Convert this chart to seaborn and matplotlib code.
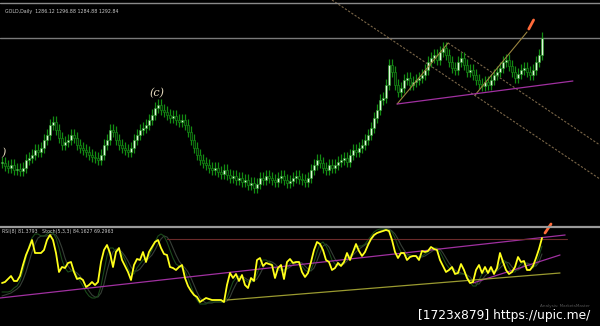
import numpy as np
import pandas as pd
import matplotlib
matplotlib.use("Agg")
import matplotlib.pyplot as plt
import seaborn as sns
from matplotlib.lines import Line2D

# ---------------- data ----------------
closes = [1237, 1234, 1232, 1235, 1230, 1231, 1229, 1232, 1240, 1242,
          1245, 1250, 1248, 1252, 1260, 1265, 1275, 1278, 1270, 1262,
          1255, 1258, 1260, 1265, 1262, 1255, 1252, 1250, 1248, 1245,
          1243, 1242, 1240, 1245, 1255, 1260, 1270, 1268, 1260, 1255,
          1252, 1250, 1248, 1252, 1260, 1265, 1270, 1272, 1275, 1280,
          1285, 1292, 1295, 1290, 1288, 1285, 1282, 1284, 1280, 1278,
          1280, 1275, 1268, 1260, 1252, 1245, 1240, 1237, 1235, 1232,
          1230, 1232, 1228, 1226, 1230, 1225, 1222, 1224, 1220, 1222,
          1218, 1220, 1215, 1217, 1212, 1216, 1222, 1220, 1224, 1222,
          1220, 1218, 1222, 1224, 1220, 1217, 1219, 1222, 1224, 1221,
          1220, 1218, 1222, 1230, 1235, 1240, 1237, 1232, 1230, 1235,
          1232, 1235, 1238, 1240, 1242, 1238, 1245, 1250, 1248, 1252,
          1255, 1260, 1265, 1272, 1282, 1290, 1300, 1302, 1315, 1335,
          1328, 1315, 1308, 1312, 1320, 1322, 1315, 1318, 1320, 1322,
          1325, 1330, 1338, 1342, 1345, 1340, 1348, 1352, 1345, 1338,
          1332, 1330, 1338, 1342, 1335, 1328, 1330, 1325, 1320, 1316,
          1314, 1318, 1315, 1320, 1325, 1328, 1332, 1338, 1340, 1334,
          1328, 1322, 1326, 1330, 1332, 1328, 1325, 1330, 1338, 1345, 1362]

rsi = [43, 44, 47, 50, 45, 45, 50, 61, 71, 78,
       86, 73, 73, 73, 76, 86, 91, 86, 73, 54,
       59, 58, 63, 64, 54, 47, 48, 46, 39, 41,
       44, 41, 44, 64, 76, 81, 73, 59, 74, 78,
       66, 60, 54, 46, 61, 67, 66, 74, 64, 74,
       79, 84, 86, 78, 72, 71, 59, 58, 56, 59,
       61, 48, 40, 35, 31, 29, 24, 26, 28, 27,
       26, 26, 26, 26, 24, 41, 53, 48, 52, 45,
       51, 41, 38, 48, 45, 66, 68, 60, 63, 62,
       61, 48, 58, 61, 47, 64, 67, 63, 64, 64,
       54, 49, 53, 64, 76, 84, 82, 76, 66, 64,
       56, 58, 63, 60, 64, 73, 66, 74, 82, 75,
       70, 74, 81, 87, 91, 93, 94, 95, 96, 95,
       86, 74, 68, 73, 73, 66, 69, 70, 70, 66,
       75, 74, 75, 79, 77, 76, 66, 60, 54, 56,
       59, 52, 53, 62, 56, 48, 43, 44, 56, 61,
       53, 59, 53, 59, 52, 58, 73, 64, 56, 52,
       54, 59, 69, 64, 65, 56, 56, 60, 68, 77, 88]

stoch_main = [34, 34, 34, 35, 38, 40, 45, 55, 68, 80,
              88, 92, 92, 90, 90, 92, 94, 93, 88, 78,
              66, 58, 54, 55, 55, 50, 45, 40, 34, 30,
              28, 28, 30, 40, 55, 70, 78, 78, 74, 76,
              72, 66, 58, 52, 52, 58, 62, 66, 68, 70,
              76, 84, 90, 92, 90, 84, 76, 68, 62, 60,
              58, 55, 48, 40, 32, 26, 22, 22, 22, 24,
              24, 24, 24, 24, 24, 28, 36, 44, 48, 50,
              48, 46, 44, 44, 46, 52, 60, 66, 66, 64,
              62, 58, 56, 56, 56, 58, 62, 64, 64, 64,
              60, 56, 54, 56, 64, 74, 82, 84, 80, 74,
              66, 62, 60, 62, 64, 68, 70, 74, 78, 80,
              80, 82, 86, 90, 94, 96, 97, 97, 97, 96,
              94, 88, 80, 74, 72, 70, 70, 70, 70, 68,
              70, 72, 74, 76, 78, 78, 74, 68, 62, 58,
              56, 54, 52, 52, 52, 50, 44, 40, 40, 46,
              52, 54, 55, 55, 55, 56, 62, 66, 64, 58,
              54, 54, 58, 62, 64, 62, 60, 58, 62, 70, 80]

stoch_signal = [30, 31, 32, 33, 35, 37, 40, 46, 54, 64,
                74, 82, 88, 90, 90, 90, 91, 92, 91, 86,
                78, 68, 60, 56, 55, 53, 50, 45, 40, 35,
                31, 29, 29, 33, 42, 55, 66, 74, 77, 76,
                74, 70, 65, 59, 55, 55, 57, 61, 65, 68,
                71, 76, 82, 87, 90, 89, 85, 78, 71, 65,
                61, 58, 54, 48, 41, 34, 28, 25, 23, 23,
                23, 24, 24, 24, 24, 25, 29, 36, 42, 47,
                49, 48, 46, 45, 45, 47, 52, 58, 63, 65,
                64, 62, 59, 57, 56, 57, 59, 61, 63, 64,
                63, 60, 57, 55, 58, 65, 73, 80, 82, 79,
                73, 67, 63, 61, 62, 65, 68, 71, 74, 77,
                79, 81, 83, 86, 90, 93, 95, 96, 97, 97,
                95, 92, 87, 81, 76, 72, 71, 70, 70, 69,
                69, 70, 72, 74, 76, 77, 77, 73, 68, 63,
                59, 56, 54, 53, 52, 51, 49, 45, 42, 42,
                46, 50, 53, 55, 55, 55, 58, 61, 64, 63,
                59, 56, 56, 58, 61, 63, 62, 60, 60, 64, 72]

header_text = "GOLD,Daily  1286.12 1296.88 1284.88 1292.84"
sub_header_text = "RSI(8) 81.3793   Stoch(5,3,3) 84.1627 69.2963"
wave_labels = ["(c)", ")"]
wave_x = [51.7, 0.3]
wave_y = [1307, 1247]
level_price = 1362

# main-chart trendlines: (x0, y0, x1, y1) in bar index / price
desc_lines = [[110.0, 1400, 199.3, 1221], [148.7, 1357, 199.3, 1255]]
rise_lines = [[131.7, 1296, 148.7, 1357], [157.7, 1305, 175.0, 1368]]
support_line = [131.7, 1296, 190.3, 1319]
main_arrow = [175.6, 1371, 177.2, 1380]

# oscillator trendlines (bar index / value)
osc_purple = [[-0.7, 28, 187.7, 91], [157.0, 43, 186.0, 71]]
osc_red_level = [55.0, 87, 188.3, 87]
osc_olive = [75.0, 26, 186.0, 53]
osc_arrow = [181.0, 93, 183.0, 102]

watermark = "[1723x879] https://upic.me/"
small_note = "Analysis: MarketsMaster"

# ---------------- figure ----------------
sns.set_theme(style="dark")
plt.rcParams['font.family'] = ['DejaVu Sans']
W, H = 600, 326
fig = plt.figure(figsize=(W / 100, H / 100), dpi=100, facecolor='black')

ax = fig.add_axes([0, 1 - 226 / H, 1, 226 / H])
ax2 = fig.add_axes([0, 0, 1, 98 / H])
for a in (ax, ax2):
    a.set_facecolor('black')
    a.set_xticks([]); a.set_yticks([])
    for s in a.spines.values():
        s.set_visible(False)
    a.grid(False)
    a.set_xlim(-2 / 3, (W - 2) / 3)
ax.set_ylim(1400 - 226, 1400)
ax2.set_ylim(0, 98)

n = len(closes)
idx = np.arange(n)
c = np.array(closes, dtype=float)
o = np.concatenate([[c[0]], c[:-1]])
top = np.maximum(o, c)
bot = np.minimum(o, c)
hi = top + 6
lo = bot - 5
ax.vlines(idx, lo, hi, color='#138c13', lw=0.9, zorder=2)
bull = c >= o
body_h = np.maximum(top - bot, 1.5)
ax.bar(idx[bull], body_h[bull], bottom=bot[bull], width=0.75,
       color='#e2f7dc', edgecolor='#189a18', linewidth=0.4, zorder=3)
ax.bar(idx[~bull], body_h[~bull], bottom=bot[~bull], width=0.75,
       color='#062006', edgecolor='#138c13', linewidth=0.5, zorder=3)

# level / trend lines
ax.axhline(level_price, color='#7a7a7a', lw=1.0, zorder=1)
for x0, y0, x1, y1 in desc_lines:
    ax.plot([x0, x1], [y0, y1], color='#7a6648', lw=0.8, ls=(0, (2, 1.5)), zorder=1)
for x0, y0, x1, y1 in rise_lines:
    ax.plot([x0, x1], [y0, y1], color='#9a8440', lw=0.8, zorder=4)
x0, y0, x1, y1 = support_line
ax.plot([x0, x1], [y0, y1], color='#a030a0', lw=0.9, zorder=4)
x0, y0, x1, y1 = main_arrow
ax.plot([x0, x1], [y0, y1], color='#ff6a3a', lw=2.0, solid_capstyle='round', zorder=5)
for lab, xx, yy in zip(wave_labels, wave_x, wave_y):
    ax.text(xx, yy, lab, color='#e8dcc0', fontsize=8, family='serif', style='italic',
            ha='center', va='center')
ax.text(1.0, 1389, header_text, color='#c8c8c8', fontsize=3.4, va='center', ha='left')

# oscillator
df = pd.DataFrame({'bar': idx, 'RSI': rsi, 'Main': stoch_main, 'Signal': stoch_signal})
sns.lineplot(data=df, x='bar', y='Signal', ax=ax2, color='#363e36', lw=0.8, zorder=2)
sns.lineplot(data=df, x='bar', y='Main', ax=ax2, color='#1a4a1a', lw=0.8, zorder=2)
for x0, y0, x1, y1 in osc_purple:
    ax2.plot([x0, x1], [y0, y1], color='#a030a0', lw=0.9, zorder=3)
x0, y0, x1, y1 = osc_red_level
ax2.plot([x0, x1], [y0, y1], color='#6a2a2a', lw=0.8, zorder=3)
x0, y0, x1, y1 = osc_olive
ax2.plot([x0, x1], [y0, y1], color='#9a9a30', lw=0.9, zorder=3)
sns.lineplot(data=df, x='bar', y='RSI', ax=ax2, color='#ffff1a', lw=1.3, zorder=5)
x0, y0, x1, y1 = osc_arrow
ax2.plot([x0, x1], [y0, y1], color='#ff6a3a', lw=2.0, solid_capstyle='round',
         zorder=6, clip_on=False)
ax2.set_xlabel(''); ax2.set_ylabel('')
ax2.set_xticks([]); ax2.set_yticks([])
ax2.set_xlim(-2 / 3, (W - 2) / 3)
ax2.set_ylim(0, 98)
ax2.text(0.0, 94.5, sub_header_text, color='#c8c8c8', fontsize=3.4, va='center', ha='left')

# window borders
fig.add_artist(Line2D([0, 1], [1 - 3 / H, 1 - 3 / H], color='#8a8a8a', lw=1.0))
fig.add_artist(Line2D([0, 1], [1 - 227 / H, 1 - 227 / H], color='#9a9a9a', lw=1.6))

fig.text(590 / W, 1 - 306 / H, small_note, color='#555555', fontsize=3, ha='right', va='center')
fig.text(590 / W, 1 - 316 / H, watermark, color='white', fontsize=8.8, ha='right', va='center',
         family='DejaVu Sans')

fig.savefig('out.png', dpi=100, facecolor='black')
